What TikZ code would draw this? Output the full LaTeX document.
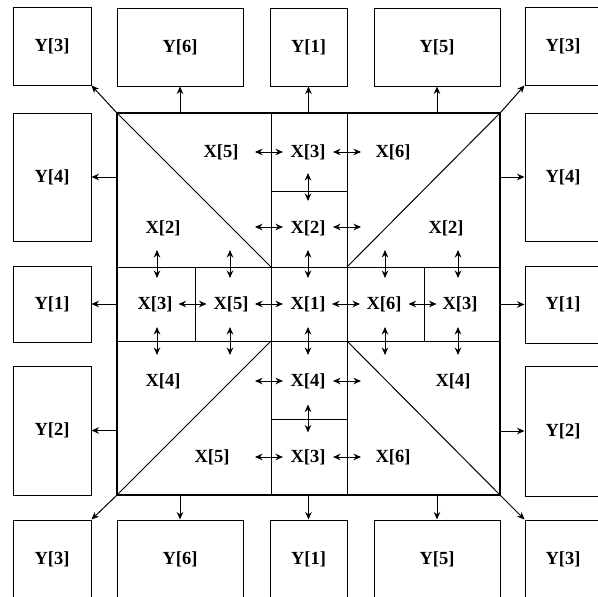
\documentclass[tikz,border=0pt]{standalone}
\usepackage{fontspec}
\setmainfont{Liberation Serif}
\usetikzlibrary{arrows.meta, positioning, calc}

\begin{document}
\begin{tikzpicture}[
        x=1pt, y=-1pt, >={Stealth[length=7.5pt, width=6.5pt]},
        font=\fontsize{18.5}{21}\selectfont\bfseries,
        ybox/.style 2 args={draw, line width=1pt, inner sep=0pt, minimum width=#1, minimum height=#2},
        frame/.style={draw, line width=2.2pt, inner sep=0pt, minimum width=383pt, minimum height=382pt},
        part/.style={line width=1pt},
        toy/.style={->, line width=1pt},
        dbl/.style={<->, line width=1pt},
        xlab/.style={inner sep=1pt},
      ]
        \useasboundingbox (0,0) rectangle (598,597);
        \clip (0,0) rectangle (598,597);
        % --- Y boxes round the square ---
        \node[ybox={78pt}{78pt}]   (ytl) at (52,46)    {Y[3]};
        \node[ybox={126pt}{78pt}]  (yt6) at (180,47)   {Y[6]};
        \node[ybox={77pt}{78pt}]   (yt1) at (308.5,47) {Y[1]};
        \node[ybox={126pt}{78pt}]  (yt5) at (437,47)   {Y[5]};
        \node[ybox={76pt}{78pt}]   (ytr) at (563,46)   {Y[3]};
        \node[ybox={78pt}{128pt}]  (yl4) at (52,177)   {Y[4]};
        \node[ybox={78pt}{76pt}]   (yl1) at (52,304)   {Y[1]};
        \node[ybox={78pt}{129pt}]  (yl2) at (52,430.5) {Y[2]};
        \node[ybox={76pt}{128pt}]  (yr4) at (563,177)  {Y[4]};
        \node[ybox={76pt}{77pt}]   (yr1) at (563,304.5){Y[1]};
        \node[ybox={76pt}{130pt}]  (yr2) at (563,431)  {Y[2]};
        \node[ybox={78pt}{78pt}]   (ybl) at (52,559)   {Y[3]};
        \node[ybox={126pt}{78pt}]  (yb6) at (180,559)  {Y[6]};
        \node[ybox={77pt}{78pt}]   (yb1) at (308.5,559){Y[1]};
        \node[ybox={126pt}{78pt}]  (yb5) at (437,559)  {Y[5]};
        \node[ybox={76pt}{78pt}]   (ybr) at (563,559)  {Y[3]};
        % --- outer square and its parts ---
        \node[frame] (sq) at (308.5,304) {};
        \draw[part] (271,113) -- (271,495) (347,113) -- (347,495)
                    (117,267) -- (500,267) (117,341) -- (500,341)
                    (271,191) -- (347,191) (271,419) -- (347,419)
                    (195,267) -- (195,341) (424,267) -- (424,341);
        \draw[part] (sq.north west) -- (271,267) (sq.north east) -- (347,267)
                    (sq.south west) -- (271,341) (sq.south east) -- (347,341);
        % --- arrows out to the Y boxes ---
        \foreach \b in {yt6, yt1, yt5}
          \draw[toy] (\b.south |- sq.north) -- (\b.south);
        \foreach \b in {yb6, yb1, yb5}
          \draw[toy] (\b.north |- sq.south) -- (\b.north);
        \foreach \b in {yl4, yl1, yl2}
          \draw[toy] (\b.east -| sq.west) -- (\b.east);
        \foreach \b in {yr4, yr1, yr2}
          \draw[toy] (\b.west -| sq.east) -- (\b.west);
        \draw[toy] (sq.north west) -- (ytl.south east);
        \draw[toy] (sq.north east) -- (ytr.south west);
        \draw[toy] (sq.south west) -- (ybl.north east);
        \draw[toy] (sq.south east) -- (ybr.north west);
        % --- X labels ---
        \foreach \n/\x/\y/\t in {
            a5/221/152/5, a3/308/152/3, a6/393/152/6,
            b2/163/228/2, c2/308/228/2, d2/446/228/2,
            m3/155/304/3, m5/231/304/5, m1/308/304/1, m6/384/304/6, n3/460/304/3,
            e4/163/381/4, f4/308/381/4, g4/453/381/4,
            h5/212/457/5, k3/308/457/3, l6/393/457/6}
          \node[xlab] (x\n) at (\x,\y) {X[\t]};
        % --- double arrows across the borders ---
        \foreach \x/\y in {269/152, 347/152, 269/227, 347/227,
                           192.5/304, 269/304, 346/304, 422.5/304,
                           269/381, 347/381, 269/457, 347/457}
          \draw[dbl] (\x-14,\y) -- (\x+14,\y);
        \foreach \x/\y in {157/264, 230/264, 308/264, 385/264, 458/264,
                           157/341, 230/341, 308/341, 385/341, 458/341,
                           308/187, 308/418.5}
          \draw[dbl] (\x,\y-14) -- (\x,\y+14);
      \end{tikzpicture}
\end{document}
